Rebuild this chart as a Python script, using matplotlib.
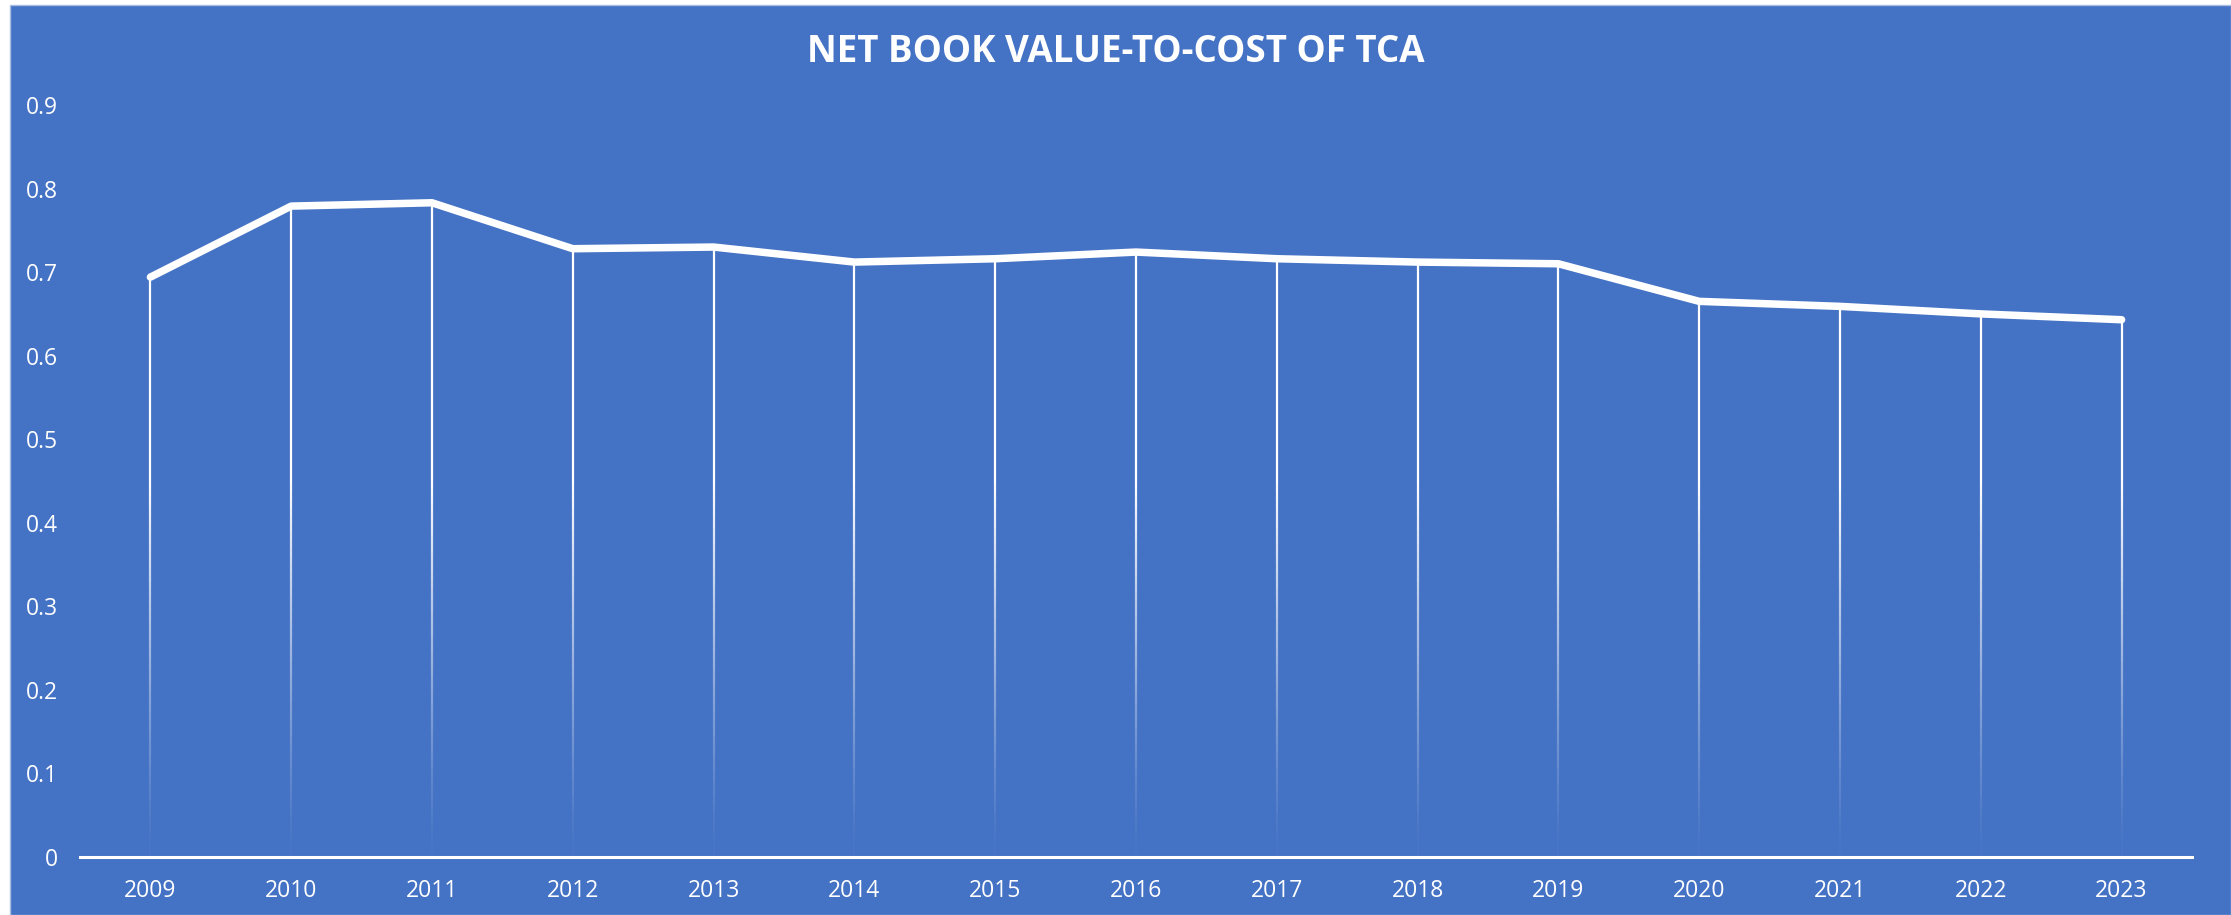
import matplotlib
matplotlib.use("Agg")
import matplotlib.pyplot as plt
from matplotlib.collections import LineCollection
from matplotlib.patches import Rectangle
import numpy as np

# Chart data
years = ['2009', '2010', '2011', '2012', '2013', '2014', '2015', '2016',
         '2017', '2018', '2019', '2020', '2021', '2022', '2023']
nbv_to_cost = [0.694, 0.779, 0.783, 0.728, 0.730, 0.712, 0.716, 0.724,
               0.716, 0.712, 0.710, 0.665, 0.659, 0.650, 0.643]
y_ticks = [0, 0.1, 0.2, 0.3, 0.4, 0.5, 0.6, 0.7, 0.8, 0.9]
y_tick_labels = ['0', '0.1', '0.2', '0.3', '0.4', '0.5', '0.6', '0.7', '0.8', '0.9']
title = 'NET BOOK VALUE-TO-COST OF TCA'

BLUE = '#4472C4'
FONT = ['Open Sans', 'DejaVu Sans']

fig = plt.figure(figsize=(22.31, 9.15), dpi=100)
fig.patch.set_facecolor('white')

# blue chart area (small white margin at left / top like the source)
bg = Rectangle((10 / 2231, 0), 1 - 10 / 2231, 1 - 5 / 915,
               transform=fig.transFigure, facecolor=BLUE,
               edgecolor='#a9bde3', linewidth=1.0, zorder=-10)
fig.patches.append(bg)

ax = fig.add_axes([80 / 2231, 58 / 915, 2112 / 2231, 752 / 915])
ax.set_facecolor('none')
ax.set_zorder(1)

x = np.arange(len(years))
vals = np.array(nbv_to_cost)

# drop lines fading to transparent towards the axis
segs = []
alphas = []
n = 80
for xi, v in zip(x, vals):
    ys = np.linspace(0, v, n + 1)
    for k in range(n):
        segs.append([(xi, ys[k]), (xi, ys[k + 1])])
        mid = (ys[k] + ys[k + 1]) / 2
        alphas.append(float(np.clip(mid / 0.45, 0.04, 1.0)) ** 1.2)
colors = [(1, 1, 1, a) for a in alphas]
ax.add_collection(LineCollection(segs, colors=colors, linewidths=1.6, zorder=2,
                                 capstyle='butt'))

# main series
ax.plot(x, vals, color='white', lw=5.4, solid_capstyle='round',
        solid_joinstyle='round', zorder=3)

ax.set_xlim(-0.5, len(years) - 0.5)
ax.set_ylim(0, 0.9)
ax.set_xticks(x)
ax.set_xticklabels(years)
ax.set_yticks(y_ticks)
ax.set_yticklabels(y_tick_labels)
ax.tick_params(axis='both', length=0, colors='white', labelsize=16.5)
ax.tick_params(axis='x', pad=16)
ax.tick_params(axis='y', pad=16)
for lab in ax.get_xticklabels() + ax.get_yticklabels():
    lab.set_family(FONT)

for side in ['top', 'right', 'left']:
    ax.spines[side].set_visible(False)
ax.spines['bottom'].set_color('white')
ax.spines['bottom'].set_linewidth(2.2)
ax.spines['bottom'].set_zorder(4)

fig.text(0.5, 1 - 52 / 915, title, ha='center', va='center', color='white',
         fontsize=26.5, fontweight='bold', family=FONT, zorder=5)

fig.savefig('out.png', dpi=100, facecolor=fig.get_facecolor())
